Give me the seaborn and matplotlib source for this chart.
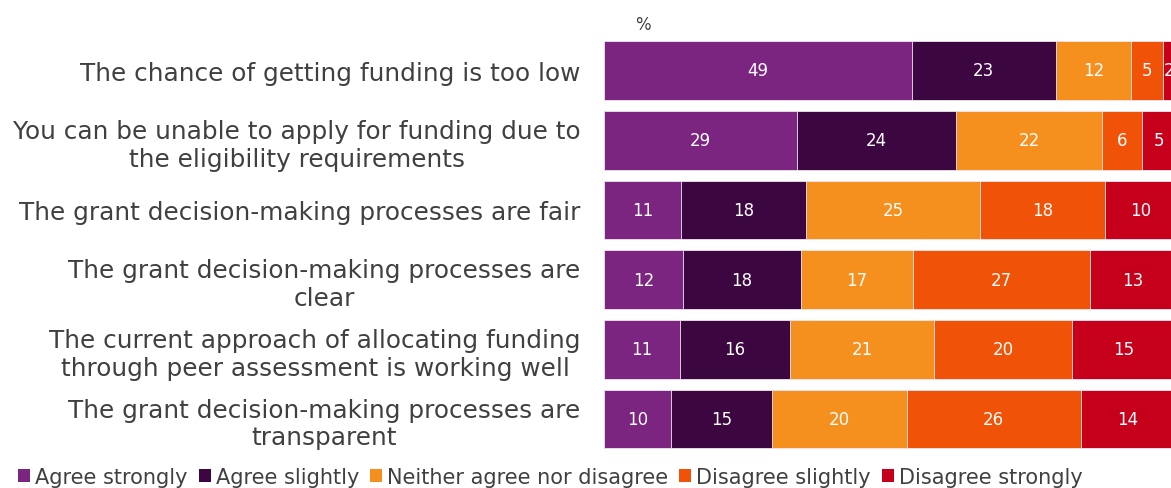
import numpy as np
import pandas as pd
import matplotlib
matplotlib.use("Agg")
import matplotlib.pyplot as plt
import seaborn as sns
from matplotlib.patches import Patch

statements = [
    "The chance of getting funding is too low",
    "You can be unable to apply for funding due to\nthe eligibility requirements",
    "The grant decision-making processes are fair",
    "The grant decision-making processes are\nclear",
    "The current approach of allocating funding\nthrough peer assessment is working well",
    "The grant decision-making processes are\ntransparent",
]
responses = ["Agree strongly", "Agree slightly", "Neither agree nor disagree",
             "Disagree slightly", "Disagree strongly"]

agree_strongly = [49, 29, 11, 12, 11, 10]
agree_slightly = [23, 24, 18, 18, 16, 15]
neither = [12, 22, 25, 17, 21, 20]
disagree_slightly = [5, 6, 18, 27, 20, 26]
disagree_strongly = [2, 5, 10, 13, 15, 14]

colors = ["#7B2480", "#3C0640", "#F5901F", "#F05308", "#C6001B"]

values = np.array([agree_strongly, agree_slightly, neither,
                   disagree_slightly, disagree_strongly], dtype=float)
# each bar is scaled to the share of those giving one of the five answers
shares = values / values.sum(axis=0) * 100
cum = np.cumsum(shares, axis=0)

sns.set_theme(style="white")
plt.rcParams["font.family"] = ["DejaVu Sans"]
text_color = "#404040"

fig = plt.figure(figsize=(11.71, 4.89), dpi=100)
ax = fig.add_axes([0.5161, 0.0695, 0.4874, 0.8556])

# draw cumulative totals from the outermost segment inwards
for i in range(len(responses) - 1, -1, -1):
    df = pd.DataFrame({"statement": statements, "total": cum[i]})
    sns.barplot(data=df, x="total", y="statement", order=statements,
                color=colors[i], saturation=1, width=0.84,
                edgecolor="#f2e8f2", linewidth=0.6, ax=ax)

for i in range(len(responses)):
    for j in range(len(statements)):
        center = cum[i, j] - shares[i, j] / 2
        ax.text(center, j, f"{int(values[i, j])}", ha="center", va="center",
                color="white", fontsize=12)

ax.set_xlim(0, 100)
ax.set_ylim(5.5, -0.5)
ax.set_xlabel("")
ax.set_ylabel("")
ax.set_xticks([])
for s in ax.spines.values():
    s.set_visible(False)
ax.tick_params(axis="y", length=0, pad=17, labelsize=17.8, labelcolor=text_color)
for lab in ax.get_yticklabels():
    lab.set_multialignment("center")

ax.text(0.068, 1.028, "%", transform=ax.transAxes, ha="center", va="center",
        fontsize=12, color=text_color)

handles = [Patch(facecolor=c, edgecolor="none") for c in colors]
fig.legend(handles, responses, loc="center left", bbox_to_anchor=(0.0154, 0.022),
           ncol=5, frameon=False, fontsize=15, handlelength=0.58, handleheight=0.58,
           handletextpad=0.24, columnspacing=0.53, labelcolor=text_color,
           borderaxespad=0, borderpad=0)

fig.savefig("out.png", dpi=100)
